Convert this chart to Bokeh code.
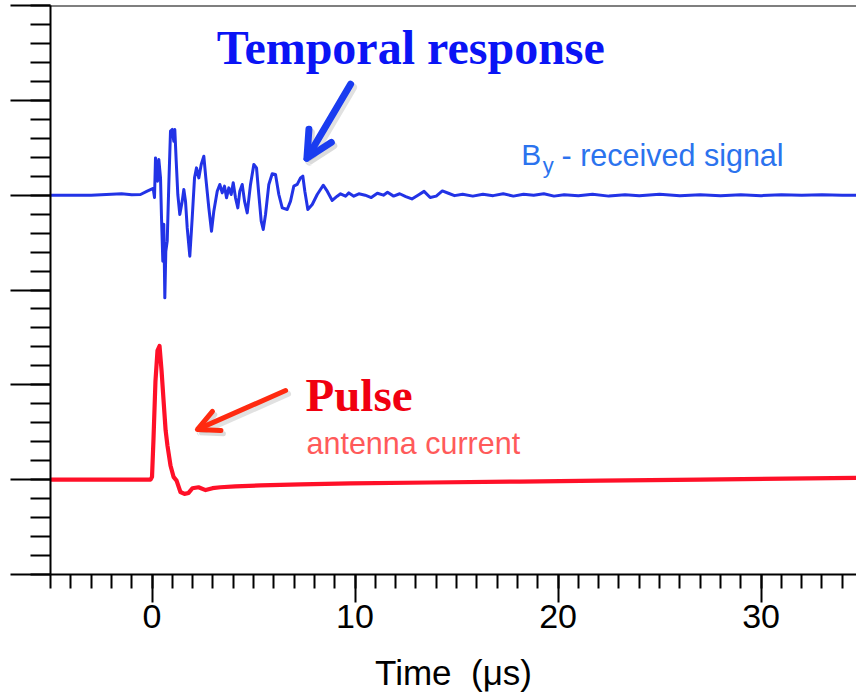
from bokeh.plotting import figure
from bokeh.models import Range1d, SingleIntervalTicker, Span, Arrow, OpenHead, Label
from bokeh.embed import file_html
from bokeh.resources import INLINE

# Received magnetic field B_y (offset trace, baseline at 4)
by_time = [-5.0, -3.0, -2.0, -1.5, -1.0, -0.567, -0.236, 0.059, 0.123, 0.172, 0.271,
           0.335, 0.419, 0.468, 0.532, 0.581, 0.631, 0.680, 0.749, 0.828, 0.911,
           0.995, 1.074, 1.123, 1.192, 1.271, 1.369, 1.488, 1.567, 1.650, 1.734,
           1.862, 1.980, 2.094, 2.192, 2.305, 2.424, 2.552, 2.650, 2.798, 2.931,
           3.044, 3.212, 3.340, 3.458, 3.571, 3.670, 3.783, 3.901, 4.000, 4.113,
           4.227, 4.325, 4.443, 4.557, 4.690, 4.852, 5.015, 5.148, 5.261, 5.379,
           5.478, 5.591, 5.754, 5.921, 6.084, 6.246, 6.414, 6.660, 6.823, 6.985,
           7.153, 7.315, 7.429, 7.527, 7.675, 7.892, 8.138, 8.433, 8.631, 8.877,
           9.123, 9.286, 9.532, 9.695, 9.941, 10.187, 10.5, 10.8, 11.1, 11.4, 11.6,
           11.9, 12.2, 12.5, 12.8, 13.1, 13.4, 13.7, 14.0, 14.3, 14.6, 14.9, 15.3,
           15.8, 16.3, 16.8, 17.3, 17.8, 18.3, 18.8, 19.3, 19.8, 20.3, 21.0, 21.7,
           22.5, 23.3, 24.0, 25.0, 26.0, 27.0, 28.0, 29.0, 30.0, 31.0, 32.0, 33.0,
           34.0, 34.7]
by_signal = [4.0, 4.0, 4.01, 4.015, 4.005, 4.007, 4.042, 4.071, 3.976, 4.393, 4.148,
             4.376, 4.182, 3.761, 3.304, 3.694, 2.917, 3.409, 3.515, 4.116, 4.675,
             4.693, 4.569, 4.693, 4.359, 4.007, 3.796, 3.937, 4.060, 3.937, 3.655,
             3.357, 3.761, 4.182, 4.288, 4.182, 4.324, 4.411, 4.182, 3.866, 3.620,
             3.831, 4.042, 4.113, 4.024, 4.095, 3.972, 4.077, 4.007, 4.130, 3.972,
             3.866, 4.042, 4.113, 3.937, 3.813, 4.113, 4.324, 4.288, 4.007, 3.726,
             3.638, 3.796, 4.113, 4.225, 4.218, 4.007, 3.866, 3.849, 3.937, 4.095,
             4.113, 4.182, 4.200, 4.042, 3.849, 3.902, 4.007, 4.105, 4.042, 3.944,
             3.989, 4.014, 3.989, 4.024, 3.989, 4.014, 4.0, 3.975, 4.02, 4.0, 4.03,
             3.99, 4.015, 3.985, 3.96, 4.0, 4.04, 3.975, 3.99, 4.045, 4.02, 3.995, 4.01,
             3.99, 4.01, 3.995, 4.015, 3.99, 4.01, 4.0, 4.015, 3.99, 4.005, 3.995, 4.01,
             3.99, 4.005, 3.995, 4.01, 3.995, 4.005, 3.995, 4.005, 3.995, 4.005, 4.0,
             4.005, 3.998, 4.0]

# Antenna current pulse (offset trace, baseline at 1)
pulse_time = [-5.0, -0.07, 0.0, 0.07, 0.17, 0.27, 0.37, 0.47, 0.57, 0.67, 0.76,
              0.91, 1.06, 1.21, 1.40, 1.60, 1.80, 1.99, 2.29, 2.64, 2.98, 3.37,
              4.11, 5.34, 7.32, 9.78, 13.7, 18.1, 22.1, 27.0, 34.7]
pulse_current = [1.0, 1.0, 1.03, 1.41, 2.04, 2.36, 2.41, 2.15, 1.83, 1.52, 1.36,
                 1.15, 1.03, 0.99, 0.87, 0.85, 0.86, 0.91, 0.92, 0.89, 0.91, 0.92,
                 0.93, 0.94, 0.95, 0.96, 0.97, 0.98, 0.99, 1.0, 1.02]

x_tick_interval = 10
y_tick_interval = 1

p = figure(width=856, height=699, x_range=Range1d(-5, 34.70), y_range=Range1d(0, 6),
           output_backend="svg", toolbar_location=None,
           min_border_left=50, min_border_right=0, min_border_top=5,
           min_border_bottom=125)
p.grid.visible = False
p.outline_line_color = None
p.background_fill_color = "white"
p.border_fill_color = "white"

xa = p.xaxis[0]
xa.ticker = SingleIntervalTicker(interval=x_tick_interval, num_minor_ticks=10)
xa.axis_line_width = 2
xa.major_tick_line_width = 2
xa.minor_tick_line_width = 2
xa.major_tick_in = 0
xa.minor_tick_in = 0
xa.major_tick_out = 28
xa.minor_tick_out = 14
xa.major_label_text_font = "Liberation Sans"
xa.major_label_text_font_size = "34px"
xa.major_label_text_color = "black"
xa.major_label_standoff = 2
xa.axis_label = "Time\u00a0\u00a0(\u03bcs)"
xa.axis_label_text_font = "Liberation Sans"
xa.axis_label_text_font_size = "35px"
xa.axis_label_text_font_style = "normal"
xa.axis_label_text_color = "black"
xa.axis_label_standoff = 22

ya = p.yaxis[0]
ya.ticker = SingleIntervalTicker(interval=y_tick_interval, num_minor_ticks=5)
ya.axis_line_width = 2
ya.major_tick_line_width = 2
ya.minor_tick_line_width = 2
ya.major_tick_in = 0
ya.minor_tick_in = 0
ya.major_tick_out = 40
ya.minor_tick_out = 20
ya.major_label_overrides = {i: "" for i in range(0, 7)}
ya.major_label_standoff = 0

# top frame line
p.add_layout(Span(location=6, dimension="width", line_color="black", line_width=2))

p.line(by_time, by_signal, line_color="#2233e6", line_width=3.0, line_join="round")
p.line(pulse_time, pulse_current, line_color="#ff1028", line_width=4.2,
       line_join="round")


def add_arrow(x0, y0, x1, y1, color, width, size):
    """Thick open arrow with a soft grey drop shadow."""
    p.add_layout(Arrow(end=OpenHead(size=size, line_width=width, line_color="#888888",
                                    line_alpha=0.3, line_cap="round"),
                       x_start=x0 + 0.12, y_start=y0 - 0.035, x_end=x1 + 0.12,
                       y_end=y1 - 0.035, line_width=width + 1, line_color="#888888",
                       line_alpha=0.25, line_cap="round"))
    p.add_layout(Arrow(end=OpenHead(size=size, line_width=width, line_color=color,
                                    line_cap="round", line_join="round"),
                       x_start=x0, y_start=y0, x_end=x1, y_end=y1,
                       line_width=width, line_color=color, line_cap="round"))


add_arrow(9.78, 5.17, 7.63, 4.39, "#1a3cf0", 7, 26)
add_arrow(6.58, 1.94, 2.24, 1.53, "#ff2a10", 5, 21)

p.add_layout(Label(x=3.19, y=5.558, text="Temporal response", text_font="Liberation Serif",
                   text_font_style="bold", text_font_size="48px", text_color="#0a14f5",
                   text_baseline="alphabetic"))
p.add_layout(Label(x=7.56, y=1.892, text="Pulse", text_font="Liberation Serif",
                   text_font_style="bold", text_font_size="47px", text_color="#f00010",
                   text_baseline="alphabetic"))
p.add_layout(Label(x=7.61, y=1.39, text="antenna current", text_font="Liberation Sans",
                   text_font_size="30.5px", text_color="#ff5a5a",
                   text_baseline="alphabetic"))
p.add_layout(Label(x=18.19, y=4.428, text="B", text_font="Liberation Sans",
                   text_font_size="30px", text_color="#2b73ee",
                   text_baseline="alphabetic"))
p.add_layout(Label(x=19.24, y=4.31, text="y", text_font="Liberation Sans",
                   text_font_size="22px", text_color="#2b73ee",
                   text_baseline="alphabetic"))
p.add_layout(Label(x=20.17, y=4.428, text="- received signal", text_font="Liberation Sans",
                   text_font_size="30.5px", text_color="#2b73ee",
                   text_baseline="alphabetic"))

open("out.html", "w").write(file_html(p, INLINE))
